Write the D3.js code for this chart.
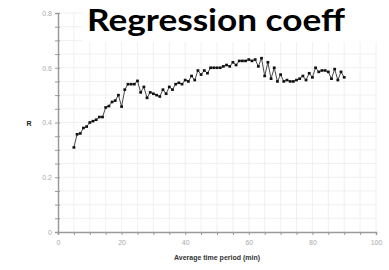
<!DOCTYPE html>
<html>
<head>
<meta charset="utf-8">
<script src="https://cdn.jsdelivr.net/npm/d3@7"></script>
<style>
  body { margin: 0; background: #fff; }
  svg { display: block; }
</style>
</head>
<body>
<script>
// averaging period (min) and regression coefficient R
var minutes = d3.range(5, 91);
var rValues = [
  0.309, 0.357, 0.360, 0.380, 0.385, 0.400, 0.405, 0.410, 0.420, 0.420,
  0.455, 0.460, 0.475, 0.480, 0.500, 0.458, 0.520, 0.540, 0.540, 0.540,
  0.552, 0.510, 0.530, 0.490, 0.510, 0.505, 0.500, 0.495, 0.520, 0.505,
  0.530, 0.520, 0.540, 0.545, 0.540, 0.555, 0.550, 0.570, 0.555, 0.590,
  0.575, 0.590, 0.580, 0.600, 0.600, 0.600, 0.600, 0.605, 0.610, 0.605,
  0.620, 0.610, 0.625, 0.625, 0.625, 0.630, 0.625, 0.630, 0.605, 0.635,
  0.570, 0.620, 0.560, 0.600, 0.550, 0.575, 0.550, 0.555, 0.550, 0.550,
  0.555, 0.560, 0.570, 0.555, 0.580, 0.565, 0.600, 0.585, 0.590, 0.590,
  0.585, 0.560, 0.595, 0.555, 0.585, 0.565
];
var xTicks = [0, 20, 40, 60, 80, 100];
var yTicks = [0, 0.2, 0.4, 0.6, 0.8];
var title = "Regression coeff";
var xLabel = "Average time period (min)";
var yLabel = "R";

var width = 389, height = 270;
var svg = d3.select("body").append("svg")
  .attr("width", width).attr("height", height);

var x = d3.scaleLinear().domain([0, 100]).range([58, 376]);
var y = d3.scaleLinear().domain([0, 0.8]).range([232, 13]);

// faint grid
var g = svg.append("g").attr("stroke", "#ececec").attr("stroke-width", 0.8);
g.selectAll("line.v").data(d3.range(5, 101, 5)).enter().append("line")
  .attr("x1", function(d) { return x(d); }).attr("x2", function(d) { return x(d); })
  .attr("y1", y(0)).attr("y2", y(0.8));
g.selectAll("line.h").data(d3.range(1, 17).map(function(i) { return i * 0.05; })).enter().append("line")
  .attr("x1", x(0)).attr("x2", x(100))
  .attr("y1", function(d) { return y(d); }).attr("y2", function(d) { return y(d); });

// white box behind the title
svg.append("rect").attr("x", 82).attr("y", 0).attr("width", 300).attr("height", 42).attr("fill", "#fff");

// axes
var axisColor = "#9a9a9a";
var xAxis = svg.append("g").attr("transform", "translate(0," + y(0) + ")")
  .call(d3.axisBottom(x).tickValues(d3.range(0, 101, 5)).tickSize(3)
    .tickFormat(function(d) { return xTicks.indexOf(d) >= 0 ? d : ""; }));
var yAxis = svg.append("g").attr("transform", "translate(" + x(0) + ",0)")
  .call(d3.axisLeft(y).tickValues(d3.range(0, 17).map(function(i) { return i * 0.05; })).tickSize(3)
    .tickFormat(function(d) {
      var r = Math.round(d * 10) / 10;
      return Math.abs(r - d) < 1e-6 && yTicks.indexOf(r) >= 0 ? (r === 0 ? "0" : r.toFixed(1)) : "";
    }));
[xAxis, yAxis].forEach(function(a) {
  a.select(".domain").attr("stroke", axisColor).attr("stroke-width", 1.5);
  a.selectAll(".tick line").attr("stroke", axisColor).attr("stroke-width", 1);
  a.selectAll("text").attr("fill", "#aaa").style("font-family", "Liberation Sans, Arial, sans-serif").style("font-size", "7px");
});
yAxis.selectAll(".tick line").attr("x1", 2);
yAxis.selectAll(".tick text").attr("x", -6);
xAxis.selectAll(".tick text").attr("y", 8);

// axis titles
svg.append("text").attr("x", 217).attr("y", 260).attr("text-anchor", "middle")
  .style("font-family", "Liberation Sans, Arial, sans-serif").style("font-weight", "bold")
  .style("font-size", "7px").attr("fill", "#333").text(xLabel);
svg.append("text").attr("x", 29).attr("y", 126).attr("text-anchor", "middle")
  .style("font-family", "Liberation Sans, Arial, sans-serif").style("font-weight", "bold")
  .style("font-size", "7px").attr("fill", "#222").text(yLabel);

// series line + markers
var pts = minutes.map(function(m, i) { return [m, rValues[i]]; });
svg.append("path").datum(pts)
  .attr("fill", "none").attr("stroke", "#333").attr("stroke-width", 0.9)
  .attr("d", d3.line().x(function(d) { return x(d[0]); }).y(function(d) { return y(d[1]); }));
svg.selectAll("rect.pt").data(pts).enter().append("rect").attr("class", "pt")
  .attr("x", function(d) { return x(d[0]) - 1.4; })
  .attr("y", function(d) { return y(d[1]) - 1.3; })
  .attr("width", 2.8).attr("height", 2.6).attr("fill", "#111");

// title
svg.append("text").attr("x", 87).attr("y", 31)
  .attr("textLength", 258).attr("lengthAdjust", "spacingAndGlyphs")
  .style("font-family", "Lato, sans-serif").style("font-weight", "bold")
  .style("font-size", "30px").attr("fill", "#000").text(title);
</script>
</body>
</html>
